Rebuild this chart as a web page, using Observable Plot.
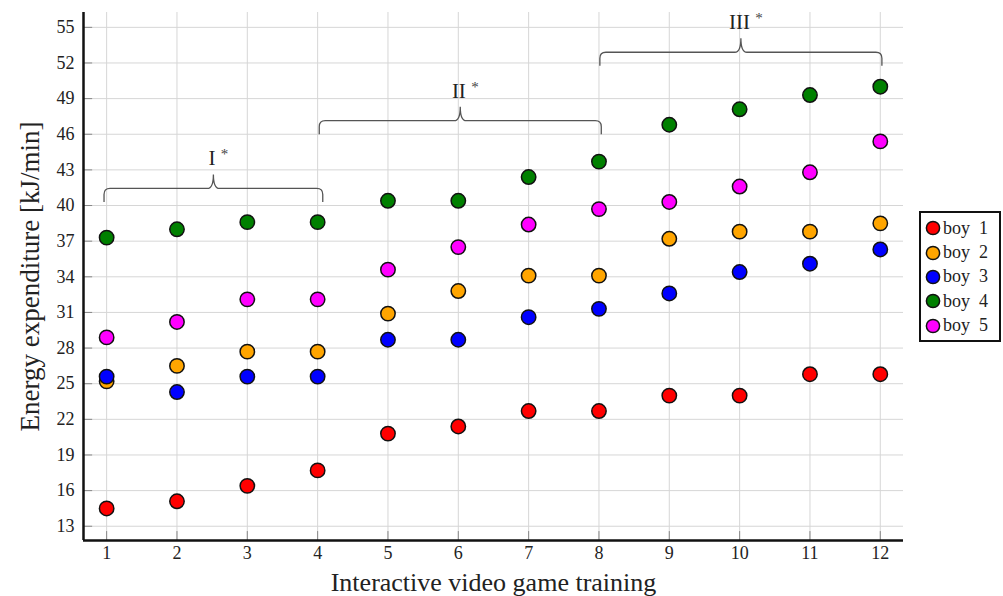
<!DOCTYPE html>
<html>
<head>
<meta charset="utf-8">
<script src="https://cdn.jsdelivr.net/npm/d3@7"></script>
<script src="https://cdn.jsdelivr.net/npm/@observablehq/plot@0.6"></script>
<style>
  body { margin: 0; background: #fff; }
  #wrap { position: relative; width: 1003px; height: 596px; font-family: "Liberation Serif", "DejaVu Serif", serif; }
  #legend { position: absolute; left: 919px; top: 211px; width: 82px; height: 131px; box-sizing: border-box;
            border: 2.5px solid #111; background: #fff; padding-top: 3px; }
  .item { display: flex; align-items: center; height: 24.4px; font-size: 18px; color: #222; }
  .item svg { margin: 0 2px 0 4px; }
</style>
</head>
<body>
<div id="wrap"></div>
<script>
// ---- data ----
const sessions = [1, 2, 3, 4, 5, 6, 7, 8, 9, 10, 11, 12];
const boy1 = [14.5, 15.1, 16.4, 17.7, 20.8, 21.4, 22.7, 22.7, 24.0, 24.0, 25.8, 25.8];
const boy2 = [25.2, 26.5, 27.7, 27.7, 30.9, 32.8, 34.1, 34.1, 37.2, 37.8, 37.8, 38.5];
const boy3 = [25.6, 24.3, 25.6, 25.6, 28.7, 28.7, 30.6, 31.3, 32.6, 34.4, 35.1, 36.3];
const boy4 = [37.3, 38.0, 38.6, 38.6, 40.4, 40.4, 42.4, 43.7, 46.8, 48.1, 49.3, 50.0];
const boy5 = [28.9, 30.2, 32.1, 32.1, 34.6, 36.5, 38.4, 39.7, 40.3, 41.6, 42.8, 45.4];
const seriesNames = ["boy 1", "boy 2", "boy 3", "boy 4", "boy 5"];
const seriesColors = ["#ff0000", "#ffa500", "#0000ff", "#008000", "#ff00ff"];
const yTicks = [13, 16, 19, 22, 25, 28, 31, 34, 37, 40, 43, 46, 49, 52, 55];
const bracketLabels = ["I", "II", "III"];
const bracketStart = [0.97, 4.03, 8.02];
const bracketEnd = [4.08, 8.04, 12.03];
const bracketLevel = [41.4, 47.1, 52.86];
const xLabel = "Interactive video game training";
const yLabel = "Energy expenditure [kJ/min]";

const xDomain = [0.671, 12.33];
const yDomain = [11.8, 56.25];

const allSeries = [boy1, boy2, boy3, boy4, boy5];
const points = [];
allSeries.forEach((vals, i) => vals.forEach((v, j) => points.push({session: sessions[j], value: v, boy: seriesNames[i]})));

const FONT = '"Liberation Serif", "DejaVu Serif", serif';

function braces(index, scales) {
  const {x, y} = scales;
  const g = d3.create("svg:g");
  bracketLabels.forEach((lab, i) => {
    const x0 = x(bracketStart[i]), x1 = x(bracketEnd[i]), yl = y(bracketLevel[i]);
    const xm = (x0 + x1) / 2, r = 6, end = 13.5, tip = 14;
    const p = d3.path();
    p.moveTo(x0, yl + end);
    p.lineTo(x0, yl + r);
    p.quadraticCurveTo(x0, yl, x0 + r, yl);
    p.lineTo(xm - r, yl);
    p.quadraticCurveTo(xm, yl, xm, yl - tip);
    p.quadraticCurveTo(xm, yl, xm + r, yl);
    p.lineTo(x1 - r, yl);
    p.quadraticCurveTo(x1, yl, x1, yl + r);
    p.lineTo(x1, yl + end);
    g.append("path").attr("d", p.toString()).attr("fill", "none")
      .attr("stroke", "#555").attr("stroke-width", 1.3);
    const t = g.append("text").attr("x", xm + 5).attr("y", yl - 28)
      .attr("text-anchor", "middle").attr("dominant-baseline", "middle")
      .attr("font-family", FONT).attr("font-size", 21).attr("fill", "#222");
    t.append("tspan").attr("fill", "#222").text(lab + " ");
    t.append("tspan").attr("dy", -4).attr("font-size", 15).attr("fill", "#444").text("*");
  });
  return g.node();
}

const chart = Plot.plot({
  width: 1003,
  height: 596,
  marginLeft: 83,
  marginRight: 100,
  marginTop: 12,
  marginBottom: 56,
  style: {fontFamily: FONT, fontSize: "18px", color: "#222", background: "#fff"},
  x: {domain: xDomain},
  y: {domain: yDomain},
  color: {domain: seriesNames, range: seriesColors},
  marks: [
    Plot.gridX(sessions, {stroke: "#d6d6d6", strokeOpacity: 1, strokeWidth: 1}),
    Plot.gridY(yTicks, {stroke: "#d6d6d6", strokeOpacity: 1, strokeWidth: 1}),
    Plot.ruleX(sessions, {y1: yDomain[0], y2: yDomain[0] + 0.75, stroke: "#888", strokeWidth: 1}),
    Plot.ruleY(yTicks, {x1: xDomain[0], x2: xDomain[0] + 0.13, stroke: "#888", strokeWidth: 1}),
    Plot.axisX(sessions, {tickSize: 0, tickPadding: 6, fontSize: 18, label: null}),
    Plot.axisY(yTicks, {tickSize: 0, tickPadding: 9, fontSize: 18, label: null}),
    Plot.ruleX([xDomain[0]], {stroke: "#111", strokeWidth: 2.5}),
    Plot.ruleY([yDomain[0]], {stroke: "#111", strokeWidth: 2.5}),
    braces,
    Plot.dot(points, {x: "session", y: "value", fill: "boy", r: 7.2, stroke: "#111", strokeWidth: 1.5}),
    Plot.text([xLabel], {frameAnchor: "bottom", dy: 42, lineAnchor: "middle", textAnchor: "middle", fontSize: 26, fill: "#222"}),
    Plot.text([yLabel], {frameAnchor: "left", dx: -53, rotate: -90, lineAnchor: "middle", textAnchor: "middle", fontSize: 27, fill: "#222"})
  ]
});

const wrap = document.getElementById("wrap");
wrap.appendChild(chart);

const legend = document.createElement("div");
legend.id = "legend";
seriesNames.forEach((name, i) => {
  const item = document.createElement("div");
  item.className = "item";
  item.innerHTML = `<svg width="16" height="16"><circle cx="8" cy="8" r="6.6" fill="${seriesColors[i]}" stroke="#111" stroke-width="1.5"/></svg><span>${name.replace(" ", "&nbsp;&nbsp;")}</span>`;
  legend.appendChild(item);
});
wrap.appendChild(legend);
</script>
</body>
</html>
